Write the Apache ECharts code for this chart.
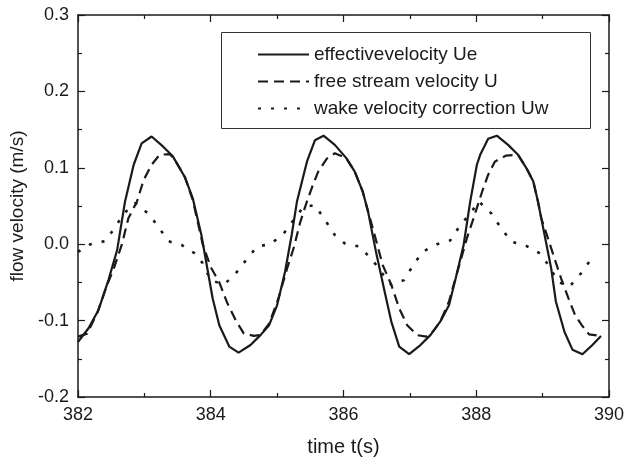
<!DOCTYPE html>
<html>
<head>
<meta charset="utf-8">
<script src="https://cdn.jsdelivr.net/npm/echarts@6/dist/echarts.min.js"></script>
<style>
html,body{margin:0;padding:0;background:#fff;}
#chart{width:627px;height:464px;}
</style>
</head>
<body>
<div id="chart"></div>
<script>
// ---- data ----
const seriesNames = ['effectivevelocity Ue', 'free stream velocity U', 'wake velocity correction Uw'];

const ueTime = [382.0,382.16,382.31,382.46,382.59,382.71,382.84,382.96,383.11,383.28,383.43,383.61,383.73,383.86,384.03,384.13,384.28,384.42,384.60,384.75,384.88,385.00,385.12,385.22,385.30,385.45,385.57,385.70,385.87,386.04,386.17,386.29,386.37,386.49,386.62,386.72,386.84,386.99,387.16,387.31,387.46,387.59,387.69,387.81,387.91,388.01,388.06,388.18,388.31,388.48,388.63,388.76,388.86,388.93,389.03,389.13,389.20,389.33,389.45,389.60,389.75,389.88];
const ueValue = [-0.128,-0.110,-0.086,-0.047,-0.008,0.056,0.104,0.132,0.141,0.128,0.115,0.088,0.060,0.012,-0.071,-0.106,-0.134,-0.142,-0.132,-0.119,-0.106,-0.080,-0.036,0.012,0.056,0.108,0.136,0.142,0.130,0.113,0.095,0.069,0.043,-0.010,-0.062,-0.101,-0.134,-0.144,-0.132,-0.119,-0.101,-0.080,-0.045,-0.001,0.056,0.104,0.117,0.138,0.142,0.130,0.117,0.099,0.082,0.056,0.012,-0.032,-0.075,-0.115,-0.138,-0.144,-0.132,-0.120];

const uTime = [382.0,382.14,382.30,382.44,382.54,382.66,382.76,382.89,382.99,383.11,383.23,383.38,383.45,383.61,383.73,383.88,384.00,384.13,384.25,384.38,384.50,384.65,384.75,384.88,385.02,385.15,385.25,385.35,385.45,385.55,385.62,385.75,385.87,386.04,386.17,386.29,386.37,386.47,386.59,386.72,386.84,386.96,387.11,387.25,387.35,387.46,387.59,387.66,387.76,387.86,387.96,388.09,388.18,388.28,388.36,388.45,388.63,388.76,388.86,388.93,388.98,389.08,389.18,389.28,389.39,389.49,389.59,389.70,389.88];
const uValue = [-0.121,-0.117,-0.088,-0.053,-0.032,-0.001,0.034,0.056,0.084,0.104,0.117,0.118,0.112,0.088,0.058,0.000,-0.030,-0.050,-0.077,-0.100,-0.117,-0.120,-0.119,-0.104,-0.071,-0.032,-0.005,0.029,0.056,0.080,0.095,0.112,0.119,0.113,0.095,0.069,0.043,0.012,-0.027,-0.053,-0.084,-0.106,-0.119,-0.121,-0.114,-0.101,-0.075,-0.053,-0.023,0.008,0.034,0.069,0.091,0.108,0.112,0.116,0.117,0.099,0.082,0.056,0.034,0.008,-0.019,-0.045,-0.071,-0.093,-0.106,-0.118,-0.120];

const uwTime = [382.0,382.19,382.41,382.56,382.69,382.86,383.06,383.21,383.36,383.56,383.76,383.88,384.00,384.20,384.38,384.53,384.70,384.90,385.10,385.25,385.40,385.57,385.72,385.87,386.02,386.24,386.44,386.60,386.72,386.91,387.04,387.19,387.41,387.61,387.76,387.91,388.04,388.23,388.36,388.53,388.73,388.96,389.10,389.23,389.40,389.58,389.72];
const uwValue = [-0.010,0.000,0.004,0.022,0.040,0.054,0.040,0.023,0.004,-0.001,-0.012,-0.025,-0.047,-0.053,-0.038,-0.021,-0.003,0.000,0.014,0.032,0.049,0.051,0.032,0.012,0.001,-0.003,-0.021,-0.040,-0.053,-0.047,-0.029,-0.010,0.000,0.005,0.025,0.040,0.056,0.040,0.023,0.003,-0.001,-0.012,-0.029,-0.049,-0.056,-0.038,-0.021];

const xMin = 382, xMax = 390, xStep = 2;
const yMin = -0.2, yMax = 0.3, yStep = 0.1;

// ---- chart ----
const pairs = (t, v) => t.map((x, i) => [x, v[i]]);
const FONT = '"Liberation Sans", Arial, Helvetica, sans-serif';
const INK = '#1a1a1a';

const axisCommon = {
  axisLine: { show: true, onZero: false, lineStyle: { color: INK, width: 1.5 } },
  axisTick: { show: true, inside: true, length: 7, lineStyle: { color: INK, width: 1.2 } },
  minorTick: { show: true, splitNumber: 2, length: 4, lineStyle: { color: INK, width: 1.2 } },
  splitLine: { show: false },
  minorSplitLine: { show: false }
};

const chart = echarts.init(document.getElementById('chart'), null, { renderer: 'canvas' });
chart.setOption({
  animation: false,
  backgroundColor: '#fff',
  grid: { left: 74, right: 17, top: 15, bottom: 67 },
  graphic: [{
    type: 'rect', left: 221, top: 32, z: 5,
    shape: { width: 369, height: 96 },
    style: { fill: '#fff', stroke: '#333', lineWidth: 1 }
  }],
  legend: {
    orient: 'vertical', left: 257, top: 45, padding: 0, z: 10,
    itemWidth: 51, itemHeight: 14, itemGap: 8,
    itemStyle: { opacity: 0 },
    textStyle: { fontFamily: FONT, fontSize: 19, color: INK },
    data: seriesNames
  },
  xAxis: [
    Object.assign({}, axisCommon, {
      type: 'value', min: xMin, max: xMax, interval: xStep, position: 'bottom',
      name: 'time t(s)', nameLocation: 'middle', nameGap: 40,
      nameTextStyle: { fontFamily: FONT, fontSize: 20, color: INK },
      axisLabel: { fontFamily: FONT, fontSize: 18, color: INK, margin: 9 }
    }),
    Object.assign({}, axisCommon, {
      type: 'value', min: xMin, max: xMax, interval: xStep, position: 'top',
      axisLabel: { show: false }
    })
  ],
  yAxis: [
    Object.assign({}, axisCommon, {
      type: 'value', min: yMin, max: yMax, interval: yStep, position: 'left',
      name: 'flow velocity (m/s)', nameLocation: 'middle', nameGap: 45,
      nameTextStyle: { fontFamily: FONT, fontSize: 19, color: INK },
      axisLabel: { fontFamily: FONT, fontSize: 18, color: INK, margin: 9,
        formatter: v => (Math.round(v * 10) / 10).toFixed(1) }
    }),
    Object.assign({}, axisCommon, {
      type: 'value', min: yMin, max: yMax, interval: yStep, position: 'right',
      axisLabel: { show: false }
    })
  ],
  series: [
    {
      name: seriesNames[0], type: 'line', symbol: 'none', z: 4,
      data: pairs(ueTime, ueValue),
      lineStyle: { color: INK, width: 2.2, type: 'solid' },
      itemStyle: { color: INK }
    },
    {
      name: seriesNames[1], type: 'line', symbol: 'none', z: 3,
      data: pairs(uTime, uValue),
      lineStyle: { color: INK, width: 2.2, type: [10, 6] },
      itemStyle: { color: INK }
    },
    {
      name: seriesNames[2], type: 'line', symbol: 'none', z: 2,
      data: pairs(uwTime, uwValue),
      lineStyle: { color: INK, width: 2.6, type: [3, 10] },
      itemStyle: { color: INK }
    }
  ]
});
</script>
</body>
</html>
